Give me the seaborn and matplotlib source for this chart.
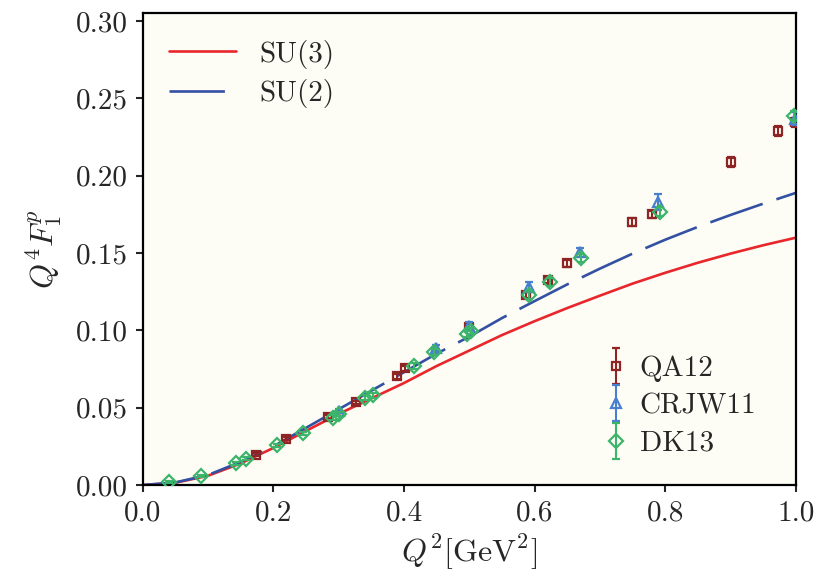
import numpy as np
import pandas as pd
import matplotlib
matplotlib.use("Agg")
import matplotlib.pyplot as plt
import seaborn as sns
from matplotlib.legend_handler import HandlerErrorbar
from matplotlib.container import ErrorbarContainer

# ---- curve data ----
curve_x = [0.0, 0.05, 0.10, 0.15, 0.20, 0.25, 0.30, 0.35, 0.40, 0.45, 0.50,
           0.55, 0.60, 0.65, 0.70, 0.75, 0.80, 0.85, 0.90, 0.95, 1.00]
su3_y = [0.0, 0.0015, 0.006, 0.014, 0.024, 0.035, 0.046, 0.056, 0.066, 0.077, 0.087,
         0.097, 0.106, 0.1145, 0.1225, 0.1303, 0.1373, 0.1438, 0.1497, 0.1551, 0.160]
su2_y = [0.0, 0.0017, 0.0065, 0.015, 0.025, 0.037, 0.049, 0.061, 0.073, 0.085, 0.096,
         0.108, 0.119, 0.1298, 0.1400, 0.1497, 0.1587, 0.1670, 0.1747, 0.1820, 0.189]

# ---- data points ----
qa12_x = [0.173, 0.220, 0.283, 0.326, 0.390, 0.402, 0.500, 0.587, 0.621, 0.650,
          0.749, 0.780, 0.900, 0.973, 0.998]
qa12_y = [0.0195, 0.0300, 0.0440, 0.0535, 0.0703, 0.0755, 0.1025, 0.1230, 0.1325, 0.1433,
          0.1700, 0.1750, 0.2090, 0.2290, 0.2345]
qa12_e = [0.001, 0.001, 0.001, 0.001, 0.0015, 0.0015, 0.002, 0.002, 0.002, 0.002,
          0.0025, 0.0025, 0.003, 0.003, 0.003]

crjw_x = [0.300, 0.449, 0.500, 0.591, 0.670, 0.789, 0.998]
crjw_y = [0.0480, 0.0885, 0.1030, 0.1280, 0.1505, 0.1830, 0.2370]
crjw_e = [0.0015, 0.002, 0.0025, 0.003, 0.003, 0.005, 0.004]

dk_x = [0.040, 0.090, 0.143, 0.158, 0.205, 0.245, 0.292, 0.300, 0.341, 0.352,
        0.415, 0.446, 0.496, 0.503, 0.591, 0.623, 0.671, 0.791, 0.997]
dk_y = [0.0020, 0.0058, 0.0140, 0.0170, 0.0258, 0.0335, 0.0435, 0.0460, 0.0565, 0.0580,
        0.0770, 0.0862, 0.0975, 0.0995, 0.1230, 0.1315, 0.1470, 0.1767, 0.2388]
dk_e = [0.0005, 0.0005, 0.001, 0.001, 0.001, 0.001, 0.0015, 0.0015, 0.0015, 0.0015,
        0.002, 0.002, 0.002, 0.002, 0.0025, 0.0025, 0.0025, 0.003, 0.003]

x_ticks = [0.0, 0.2, 0.4, 0.6, 0.8, 1.0]
y_ticks = [0.00, 0.05, 0.10, 0.15, 0.20, 0.25, 0.30]

sns.set_style("ticks")
plt.rcParams.update({
    "font.family": ["cmr10", "DejaVu Serif"],
    "mathtext.fontset": "cm",
    "axes.formatter.use_mathtext": True,
    "axes.unicode_minus": False,
})

FS = 21
fig = plt.figure(figsize=(8.19, 5.83), dpi=100)
ax = fig.add_axes([0.1742, 0.168, 0.7978, 0.809])
ax.set_facecolor("#fdfdf6")

df = pd.DataFrame({"x": curve_x, "SU(3)": su3_y, "SU(2)": su2_y})
sns.lineplot(data=df, x="x", y="SU(3)", ax=ax, color="#e8262b", lw=1.9, label="SU(3)")
sns.lineplot(data=df, x="x", y="SU(2)", ax=ax, color="#3450a2", lw=1.9, label="SU(2)",
             dashes=False)
ax.lines[1].set_dashes([21, 5.5])

e1 = ax.errorbar(qa12_x, qa12_y, yerr=qa12_e, fmt="s", ms=6, mfc="none", mec="#8e2424",
                 mew=1.6, ecolor="#8e2424", elinewidth=1.5, capsize=3, capthick=1.5,
                 label="QA12", zorder=3)
e2 = ax.errorbar(crjw_x, crjw_y, yerr=crjw_e, fmt="^", ms=7.5, mfc="none", mec="#4a7fd0",
                 mew=1.6, ecolor="#4a7fd0", elinewidth=1.5, capsize=3, capthick=1.5,
                 label="CRJW11", zorder=4)
e3 = ax.errorbar(dk_x, dk_y, yerr=dk_e, fmt="D", ms=7, mfc="none", mec="#3cb46a",
                 mew=1.6, ecolor="#3cb46a", elinewidth=1.5, capsize=3, capthick=1.5,
                 label="DK13", zorder=5)

ax.set_xlim(0, 1.0)
ax.set_ylim(0, 0.305)
ax.set_xticks(x_ticks)
ax.set_yticks(y_ticks)
ax.set_xticklabels([f"{v:.1f}" for v in x_ticks])
ax.set_yticklabels([f"{v:.2f}" for v in y_ticks])
ax.tick_params(direction="out", length=5, width=1.5, labelsize=FS, pad=6)
for s in ax.spines.values():
    s.set_linewidth(1.6)
    s.set_color("black")

ax.set_xlabel(r"$Q^2[\mathrm{GeV}^2]$", fontsize=23, labelpad=4)
ax.set_ylabel(r"$Q^4F_1^p$", fontsize=23, labelpad=8)

lines = ax.lines[:2]
leg1 = ax.legend(lines, ["SU(3)", "SU(2)"], loc="upper left", frameon=False,
                 fontsize=FS, handlelength=2.3, handletextpad=0.8, labelspacing=0.35)
ax.add_artist(leg1)
leg2 = ax.legend([e1, e2, e3], ["QA12", "CRJW11", "DK13"], loc="lower left",
                 bbox_to_anchor=(0.689, 0.035), frameon=False, fontsize=FS,
                 handlelength=0.8, handletextpad=0.4, labelspacing=0.38,
                 borderaxespad=0,
                 handler_map={ErrorbarContainer: HandlerErrorbar(yerr_size=0.62)})

fig.savefig("out.png", dpi=100)
